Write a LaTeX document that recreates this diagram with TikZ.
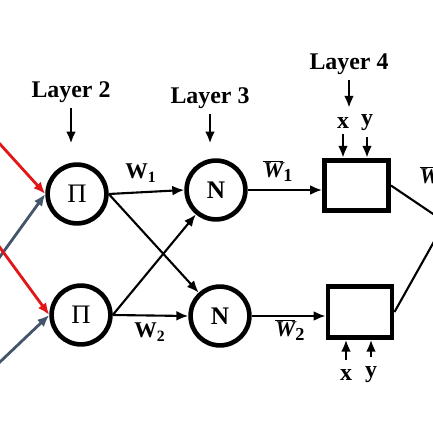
\documentclass[tikz,border=0pt]{standalone}
\usepackage{fontspec}
\setmainfont{Liberation Serif}
\usetikzlibrary{arrows.meta}
\definecolor{mfred}{RGB}{226,22,22}
\definecolor{mfgray}{RGB}{68,84,106}
\newcommand{\wbar}[1]{$\overline{\hbox{\bfseries\itshape W}}$\raisebox{-0.35ex}{\fontsize{13}{13}\selectfont\bfseries #1}}

\begin{document}
\begin{tikzpicture}[x=0.025cm,y=-0.025cm,
        neuron/.style={draw,circle,line width=3.3pt,minimum size=1.47cm,inner sep=0pt,font=\fontsize{19}{21}\selectfont},
        rulebox/.style={draw,rectangle,line width=3.5pt,minimum width=1.6cm,minimum height=1.26cm},
        lbl/.style={inner sep=1pt,font=\fontsize{17}{20}\selectfont\bfseries},
        wlbl/.style={inner sep=1pt,font=\fontsize{16}{18}\selectfont\bfseries},
        tip/.style={-{Latex[length=8.5pt,width=7pt]},line width=1.5pt},
        inred/.style={tip,draw=mfred,line width=2pt},
        ingray/.style={tip,draw=mfgray,line width=2pt}]

    \useasboundingbox (0,0) rectangle (433,433);
    \clip (0,0) rectangle (433,433);

    % layer 2 and 3
    \node[neuron] (p1) at (77,194) {Π};
    \node[neuron] (p2) at (81,315) {Π};
    \node[neuron,font=\fontsize{18}{20}\selectfont\bfseries] (n1) at (216,190) {N};
    \node[neuron,font=\fontsize{18}{20}\selectfont\bfseries] (n2) at (220,316) {N};

    % layer 4
    \node[rulebox] (r1) at (356.5,185.5) {};
    \node[rulebox] (r2) at (360,312) {};

    \node[lbl] (lay2) at (71,92) {Layer 2};
    \node[lbl] (lay3) at (210,98) {Layer 3};
    \node[lbl] (lay4) at (349,64) {Layer 4};

    \node[lbl] (x1) at (343,123) {x};
    \node[lbl] (y1) at (367,123) {y};
    \node[lbl] (x2) at (346,375) {x};
    \node[lbl] (y2) at (371,375) {y};

    \node[wlbl] (w1) at (141,173) {W\textsubscript{1}};
    \node[wlbl] (w2) at (150,332) {W\textsubscript{2}};
    \node[wlbl] (wb1) at (278,171) {\wbar{1}};
    \node[wlbl] (wb2) at (290,330) {\wbar{2}};
    \node[wlbl,anchor=west] (wb3) at (418,177) {\wbar{1}};

    % inputs from layer 1 (off the left edge)
    \coordinate (mfx1) at (-40,100);
    \coordinate (mfy1) at (-40,312);
    \coordinate (mfx2) at (-40,193);
    \coordinate (mfy2) at (-40,400);
    \coordinate (sum) at (445,222);

    \draw[inred] (mfx1) -- (p1.west);
    \draw[ingray] (mfy1) -- (p1.west);
    \draw[inred] (mfx2) -- (p2.west);
    \draw[ingray] (mfy2) -- (p2.west);

    \draw[tip] (p1.east) -- (n1.west);
    \draw[tip] (p1.east) -- (n2);
    \draw[tip] (p2.east) -- (n1);
    \draw[tip] (p2.east) -- (n2.west);

    \draw[tip] (n1.east) -- (n1.east -| r1.west);
    \draw[tip] (n2.east) -- (n2.east -| r2.west);

    \draw[line width=1.5pt] (r1.east) -- (sum);
    \draw[line width=1.5pt] (r2.east) -- (sum);

    % layer pointers
    \draw[tip,line width=2pt,shorten <=0.1cm,shorten >=0.47cm] (lay2.south) -- (lay2.south |- p1.north);
    \draw[tip,line width=2pt,shorten <=0.1cm,shorten >=0.37cm] (lay3.south) -- (lay3.south |- n1.north);
    \draw[tip,line width=2pt,shorten <=0.1cm,shorten >=0.2cm] (lay4.south) -- (lay4.south |- x1.north);

    \draw[tip,line width=2pt,shorten <=0.1cm] (x1.south) -- (x1.south |- r1.north);
    \draw[tip,line width=2pt,shorten <=0.1cm] (y1.south) -- (y1.south |- r1.north);
    \draw[tip,line width=2pt,shorten <=0.2cm] (x2.north) -- (x2.north |- r2.south);
    \draw[tip,line width=2pt,shorten <=0.2cm] (y2.north) -- (y2.north |- r2.south);
\end{tikzpicture}
\end{document}
